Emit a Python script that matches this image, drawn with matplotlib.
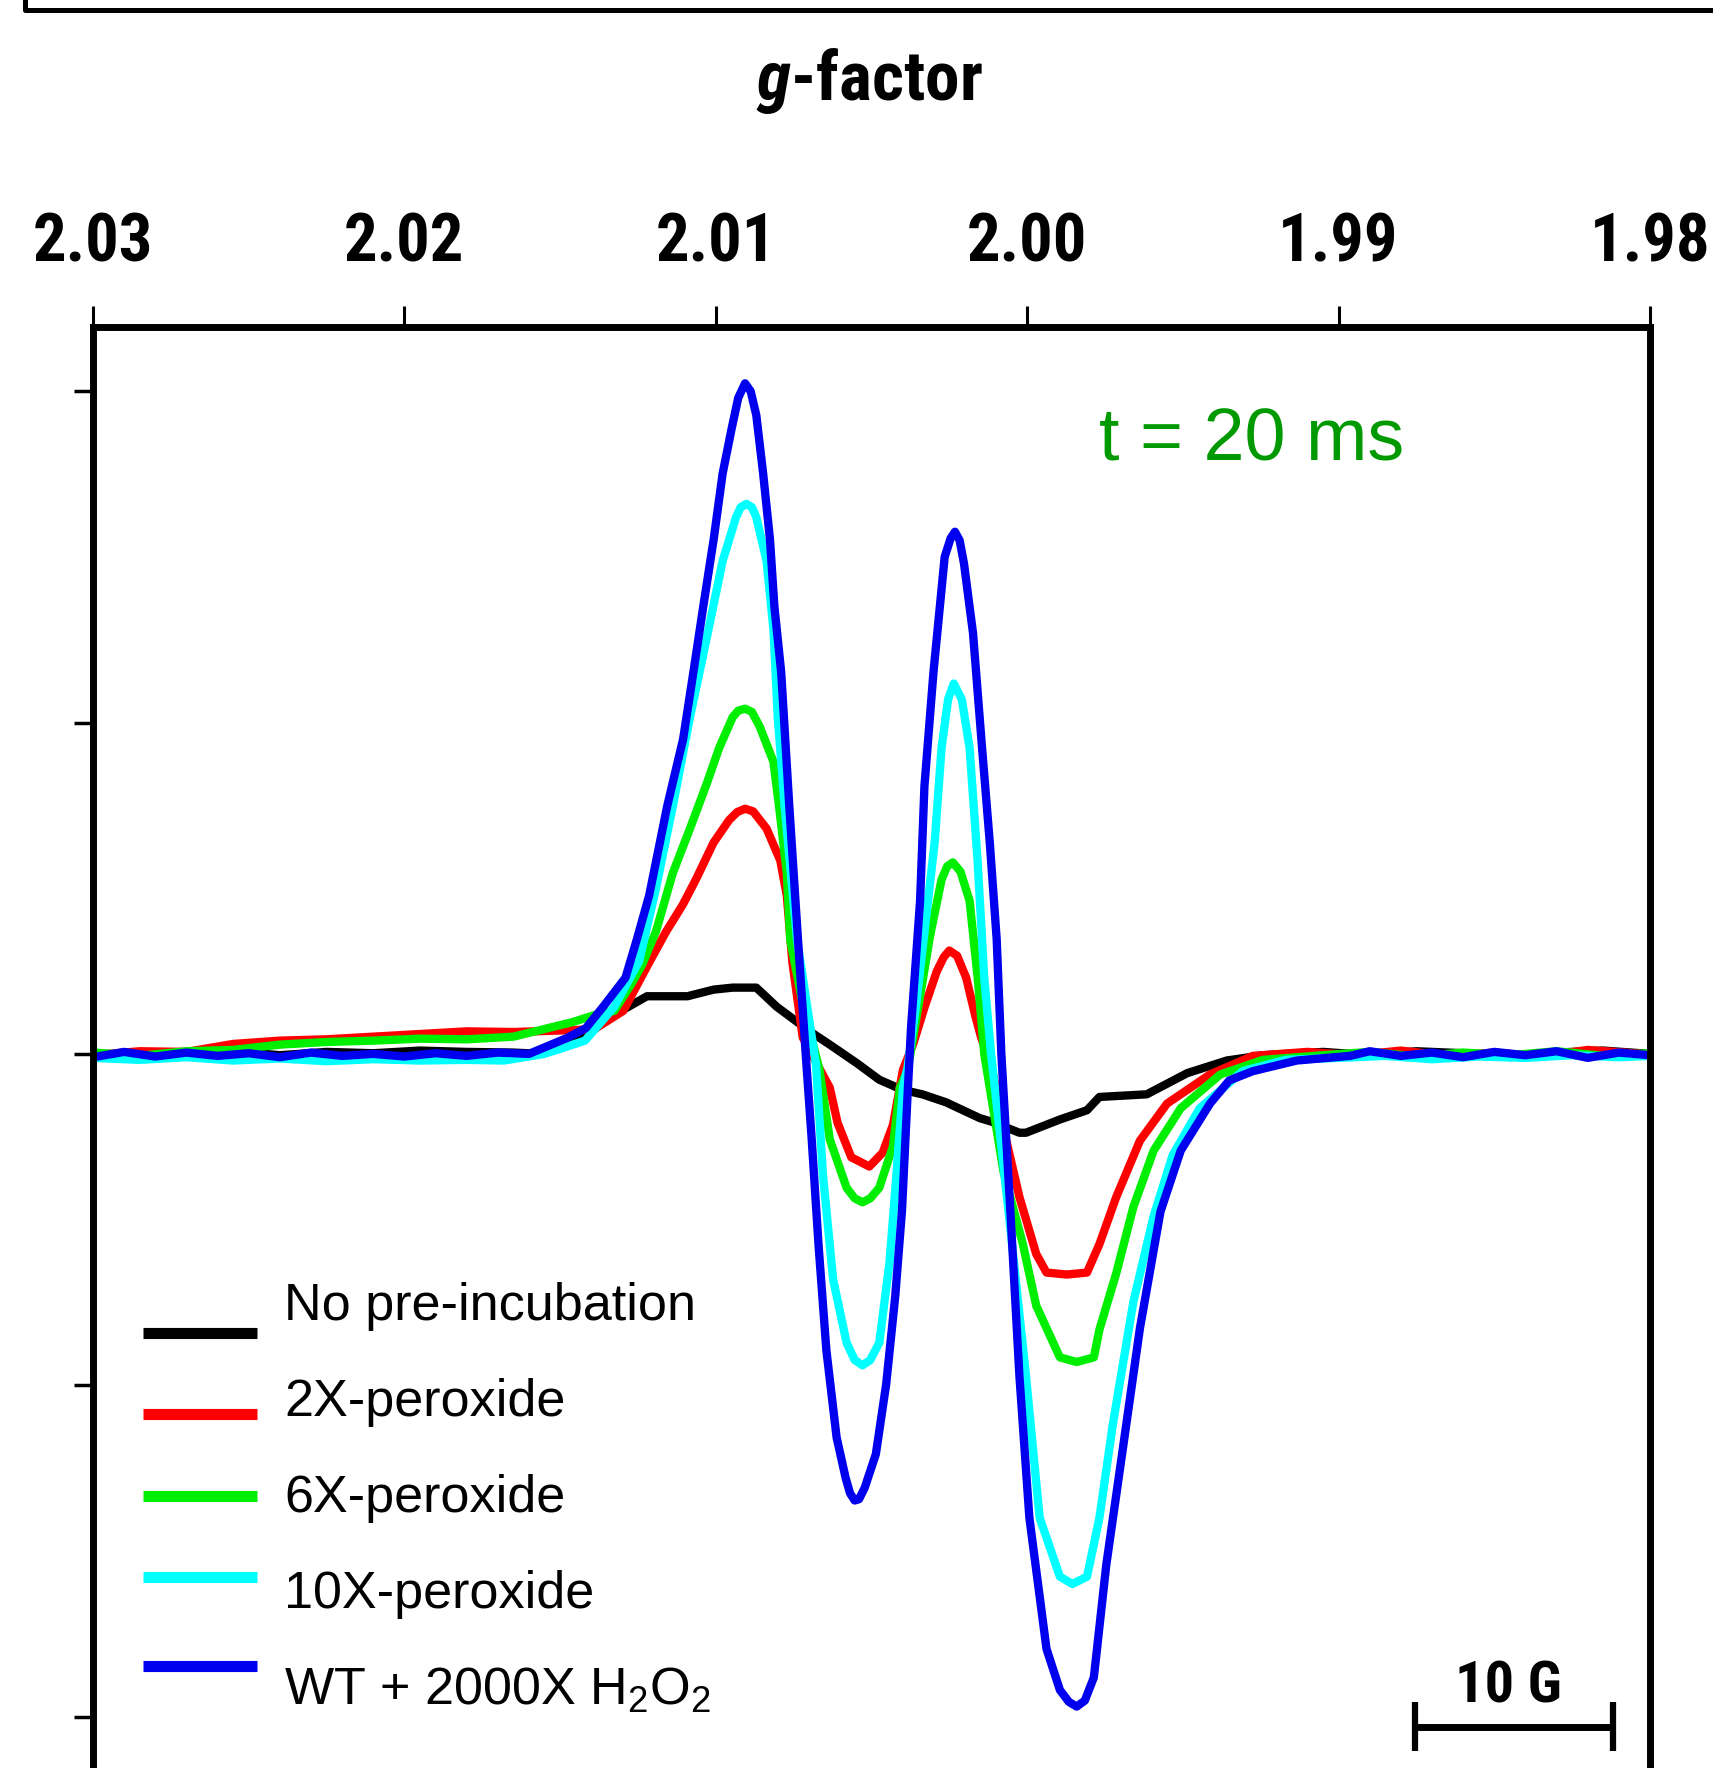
import matplotlib
matplotlib.use("Agg")
import matplotlib.pyplot as plt
from matplotlib import font_manager
from matplotlib.lines import Line2D

# Fonts: the axis text is a narrow bold face; use one if installed
installed = {f.name for f in font_manager.fontManager.ttflist}
narrow_candidates = ["Liberation Sans Narrow", "Arial Narrow", "Roboto Condensed",
                     "Noto Sans Condensed", "Open Sans Condensed", "DejaVu Sans Condensed"]
narrow_found = [n for n in narrow_candidates if n in installed]
if narrow_found:
    NARROW = narrow_found[0]
    tick_fs, title_fs, bar_fs = 48, 50, 42
else:
    NARROW = "Liberation Sans"
    tick_fs, title_fs, bar_fs = 41, 43, 36
REGULAR = ["Liberation Sans", "DejaVu Sans"]
plt.rcParams["mathtext.fontset"] = "custom"
plt.rcParams["mathtext.it"] = NARROW + ":italic:bold"
plt.rcParams["mathtext.rm"] = "Liberation Sans"

# Data (g-factor, intensity in arbitrary units)
black_g = [2.0300, 2.0285, 2.0270, 2.0255, 2.0240, 2.0225, 2.0210, 2.0195, 2.0180, 2.0165,
           2.01562, 2.01391, 2.01326, 2.01221, 2.01091, 2.01007, 2.00946, 2.00870, 2.00804,
           2.00692, 2.00634, 2.00547, 2.00475, 2.00402, 2.00337, 2.00261, 2.00152, 2.00116,
           2.00025, 2.00004, 1.99895, 1.99808, 1.99768, 1.99616, 1.99486, 1.99359, 1.99243,
           1.9905, 1.9890, 1.9875, 1.9860, 1.9845, 1.9830, 1.9815, 1.9800]
black_i = [0.1, -0.3, 0.2, 0.4, -0.2, 0.3, 0.1, 0.5, 0.3, 0.2,
           0.0, 3.7, 5.9, 8.7, 8.7, 9.7, 10.0, 10.0, 7.1,
           3.2, 1.4, -1.4, -3.9, -5.4, -6.1, -7.3, -9.7, -10.2,
           -11.9, -11.9, -9.9, -8.5, -6.5, -6.1, -2.9, -1.0, -0.2,
           0.3, -0.2, 0.4, 0.1, -0.3, 0.2, 0.5, 0.0]

red_g = [2.0300, 2.0285, 2.0270, 2.0255, 2.0240, 2.0225, 2.0210, 2.0195, 2.0180, 2.0165,
         2.01391, 2.01297, 2.01214, 2.01159, 2.01105, 2.01062, 2.01007, 2.00957, 2.00931,
         2.00906, 2.00880, 2.00837, 2.00793, 2.00772, 2.00754, 2.00721, 2.00634, 2.00609,
         2.00565, 2.00507, 2.00464, 2.00431, 2.00399, 2.00366, 2.00330, 2.00290, 2.00268,
         2.00250, 2.00225, 2.00196, 2.00167, 2.00148, 2.00112, 2.00069, 2.00025, 1.99971,
         1.99938, 1.99873, 1.99808, 1.99768, 1.99714, 1.99638, 1.99551, 1.99413, 1.99275,
         1.9910, 1.9895, 1.9880, 1.9865, 1.9850, 1.9835, 1.9820, 1.9800]
red_i = [-0.2, 0.4, 0.3, 1.5, 2.0, 2.2, 2.6, 3.0, 3.4, 3.3,
         3.7, 6.5, 13.8, 18.5, 22.6, 26.5, 31.9, 35.3, 36.5,
         37.0, 36.6, 34.0, 29.2, 23.9, 13.8, 2.5, -5.1, -10.4,
         -15.6, -17.0, -14.9, -10.7, -2.4, 1.5, 7.0, 12.5, 14.6,
         15.6, 14.8, 11.5, 5.8, 2.5, -2.5, -12.7, -21.6, -30.2,
         -33.0, -33.3, -33.0, -28.7, -21.6, -13.1, -7.5, -3.1, -0.3,
         0.3, -0.2, 0.5, -0.3, 0.2, -0.4, 0.6, -0.1]

green_g = [2.0300, 2.0285, 2.0270, 2.0255, 2.0240, 2.0225, 2.0210, 2.0195, 2.0180, 2.0165,
           2.01460, 2.01380, 2.01326, 2.01272, 2.01236, 2.01192, 2.01138, 2.01083, 2.01029,
           2.00989, 2.00946, 2.00928, 2.00906, 2.00884, 2.00859, 2.00815, 2.00797, 2.00772,
           2.00761, 2.00721, 2.00667, 2.00634, 2.00580, 2.00554, 2.00529, 2.00504, 2.00475,
           2.00431, 2.00409, 2.00384, 2.00348, 2.00312, 2.00275, 2.00257, 2.00239, 2.00214,
           2.00185, 2.00159, 2.00138, 2.00076, 2.00014, 1.99971, 1.99895, 1.99841, 1.99786,
           1.99768, 1.99714, 1.99659, 1.99594, 1.99507, 1.99380, 1.99243, 1.9905, 1.9890,
           1.9875, 1.9860, 1.9845, 1.9830, 1.9815, 1.9800]
green_i = [0.2, -0.3, 0.4, 0.6, 1.4, 1.8, 2.0, 2.3, 2.2, 2.6,
           4.8, 6.0, 6.5, 10.5, 13.5, 18.5, 27.3, 34.0, 40.8,
           46.2, 50.8, 51.8, 52.1, 51.6, 49.4, 44.1, 37.4, 27.3,
           17.2, 7.6, -2.4, -12.9, -20.2, -21.8, -22.4, -21.8, -20.2,
           -13.9, -5.1, -2.5, 7.6, 17.8, 26.3, 28.3, 28.9, 27.5,
           23.1, 11.5, 0.0, -17.8, -28.7, -38.0, -45.8, -46.5, -45.8,
           -41.6, -33.1, -23.1, -14.6, -8.2, -3.1, -0.9, -0.2, 0.3,
           -0.4, 0.2, -0.2, 0.4, -0.3, 0.1]

cyan_g = [2.0300, 2.0285, 2.0270, 2.0255, 2.0240, 2.0225, 2.0210, 2.0195, 2.0180, 2.0168,
          2.0155, 2.0142, 2.01326, 2.01246, 2.01192, 2.01138, 2.01083, 2.01029, 2.00978,
          2.00935, 2.00920, 2.00902, 2.00884, 2.00870, 2.00837, 2.00815, 2.00801, 2.00779,
          2.00739, 2.00678, 2.00656, 2.00623, 2.00580, 2.00554, 2.00529, 2.00504, 2.00475,
          2.00442, 2.00420, 2.00399, 2.00384, 2.00355, 2.00326, 2.00297, 2.00275, 2.00254,
          2.00236, 2.00210, 2.00185, 2.00159, 2.00138, 2.00116, 2.00058, 2.00004, 1.99960,
          1.99895, 1.99855, 1.99808, 1.99768, 1.99725, 1.99659, 1.99594, 1.99533, 1.99446,
          1.99308, 1.99170, 1.9900, 1.9885, 1.9870, 1.9855, 1.9840, 1.9825, 1.9810, 1.9800]
cyan_i = [-0.6, -0.9, -0.5, -1.0, -0.7, -1.1, -0.8, -1.0, -0.9, -1.0,
          0.0, 2.0, 7.1, 14.0, 25.0, 37.4, 50.8, 62.8, 74.4,
          81.0, 82.5, 83.0, 82.5, 81.0, 74.4, 64.2, 50.8, 37.4,
          17.2, -1.7, -18.2, -34.1, -43.6, -46.2, -47.0, -46.2, -43.6,
          -31.4, -18.2, -5.1, -2.0, 8.0, 20.0, 32.0, 46.2, 53.5,
          55.9, 53.5, 46.2, 28.9, 11.5, 0.0, -24.6, -48.6, -70.0,
          -78.9, -80.0, -78.9, -70.0, -55.9, -37.4, -24.5, -15.3, -8.2,
          -2.6, -0.9, -0.6, -0.3, -0.8, -0.4, -0.6, -0.2, -0.5, -0.3]

blue_g = [2.0300, 2.0290, 2.0280, 2.0270, 2.0260, 2.0250, 2.0240, 2.0230, 2.0220, 2.0210,
          2.0200, 2.0190, 2.0180, 2.0170, 2.0160, 2.01478, 2.01417, 2.01362, 2.01290, 2.01254,
          2.01214, 2.01156, 2.01105, 2.01072, 2.01040, 2.01007, 2.00978, 2.00949, 2.00928,
          2.00906, 2.00888, 2.00870, 2.00848, 2.00826, 2.00812, 2.00790, 2.00764, 2.00736,
          2.00710, 2.00692, 2.00670, 2.00645, 2.00612, 2.00583, 2.00569, 2.00554, 2.00540,
          2.00522, 2.00486, 2.00453, 2.00424, 2.00402, 2.00384, 2.00373, 2.00344, 2.00330,
          2.00301, 2.00265, 2.00246, 2.00232, 2.00217, 2.00203, 2.00174, 2.00145, 2.00120,
          2.00098, 2.00083, 2.00054, 2.00025, 1.99993, 1.99938, 1.99895, 1.99866, 1.99841,
          1.99815, 1.99786, 1.99746, 1.99692, 1.99638, 1.99572, 1.99507, 1.99413, 1.99351,
          1.99275, 1.99134, 1.98963, 1.9890, 1.9880, 1.9870, 1.9860, 1.9850, 1.9840,
          1.9830, 1.9820, 1.9810, 1.9800]
blue_i = [-0.5, 0.3, -0.4, 0.2, -0.3, 0.1, -0.5, 0.2, -0.3, 0.0,
          -0.4, 0.1, -0.3, 0.2, 0.0, 2.4, 3.9, 7.1, 11.5, 17.2,
          23.9, 37.4, 47.5, 57.6, 67.6, 77.6, 87.6, 94.4, 99.0,
          101.2, 100.0, 96.4, 87.6, 77.6, 67.6, 57.6, 37.4, 17.2,
          -0.9, -12.9, -28.9, -44.7, -57.9, -64.0, -66.3, -67.4, -67.2,
          -65.5, -60.4, -49.9, -36.7, -23.6, -6.0, 4.0, 23.1, 40.4,
          57.6, 75.0, 77.8, 78.8, 77.5, 74.0, 63.5, 46.2, 31.8,
          17.3, 0.0, -23.8, -48.6, -70.0, -89.8, -96.0, -97.8, -98.5,
          -97.6, -94.1, -77.1, -59.3, -41.4, -23.8, -14.6, -7.5, -4.0,
          -2.6, -1.0, -0.3, 0.4, -0.3, 0.2, -0.5, 0.3, -0.2,
          0.4, -0.6, 0.2, -0.2]

series = [
    ("No pre-incubation", black_g, black_i, "#000000"),
    ("2X-peroxide", red_g, red_i, "#ff0000"),
    ("6X-peroxide", green_g, green_i, "#00ee00"),
    ("10X-peroxide", cyan_g, cyan_i, "#00ffff"),
    ("WT + 2000X H$_\\mathdefault{2}$O$_\\mathdefault{2}$", blue_g, blue_i, "#0000ee"),
]

g_ticks = [2.03, 2.02, 2.01, 2.00, 1.99, 1.98]
g_tick_labels = ["2.03", "2.02", "2.01", "2.00", "1.99", "1.98"]
y_ticks = [100, 50, 0, -50, -100]

# Figure
W, H = 1713, 1768
fig = plt.figure(figsize=(W / 100, H / 100), dpi=100)
ax_left, ax_right, ax_top, ax_bot = 93, 1650, 327, 1800
ax = fig.add_axes([ax_left / W, (H - ax_bot) / H, (ax_right - ax_left) / W, (ax_bot - ax_top) / H])

for label, g, inten, color in series:
    ax.plot(g, inten, color=color, lw=6, solid_joinstyle="round", solid_capstyle="round")

ax.set_xlim(2.03, 1.98)
ax.set_ylim(-112.6, 109.7)

for s in ax.spines.values():
    s.set_linewidth(5)

ax.xaxis.tick_top()
ax.set_xticks(g_ticks)
ax.set_xticklabels(g_tick_labels, family=NARROW, fontweight="bold", fontsize=tick_fs)
ax.tick_params(axis="x", direction="out", length=15, width=2.2, pad=22, top=True, bottom=False)
ax.set_yticks(y_ticks)
ax.set_yticklabels([])
ax.tick_params(axis="y", direction="out", length=14, width=2.5)

# legend, drawn by hand so the samples sit below the text centre
text_y = [0.3259, 0.2607, 0.1955, 0.1303, 0.0645]
line_y = [0.3170, 0.2620, 0.2064, 0.1514, 0.0910]
for (label, g, inten, color), ty, ly in zip(series, text_y, line_y):
    ax.plot([0.0321, 0.1054], [ly, ly], color=color, lw=8, transform=ax.transAxes,
            solid_capstyle="butt")
    ax.text(0.1227, ty, label, transform=ax.transAxes, family=REGULAR, fontsize=37.5,
            va="baseline", ha="left")

ax.text(0.6461, 0.9097, "t = 20 ms", transform=ax.transAxes, family=REGULAR, fontsize=53,
        color="#009900", va="baseline", ha="left")

# 10 G scale bar
bar_x0, bar_x1, bar_y = 0.8491, 0.9762, 0.0497
ax.plot([bar_x0, bar_x1], [bar_y, bar_y], color="black", lw=5, transform=ax.transAxes,
        solid_capstyle="butt")
for bx in (bar_x0, bar_x1):
    ax.plot([bx, bx], [bar_y - 0.0165, bar_y + 0.0165], color="black", lw=4.5,
            transform=ax.transAxes, solid_capstyle="butt")
ax.text(0.9088, 0.0659, "10 G", transform=ax.transAxes, family=NARROW, fontweight="bold",
        fontsize=bar_fs, ha="center", va="baseline")

fig.text(869 / W, 1 - 100 / H, "$g$-factor", family=NARROW, fontweight="bold",
         fontsize=title_fs, ha="center", va="baseline")

# frame edge above the panel
fig.add_artist(Line2D([25 / W, 25 / W, 1], [1, 1 - 10 / H, 1 - 10 / H], color="black",
                      lw=3.6, transform=fig.transFigure, zorder=6))

fig.savefig("out.png", dpi=100)
